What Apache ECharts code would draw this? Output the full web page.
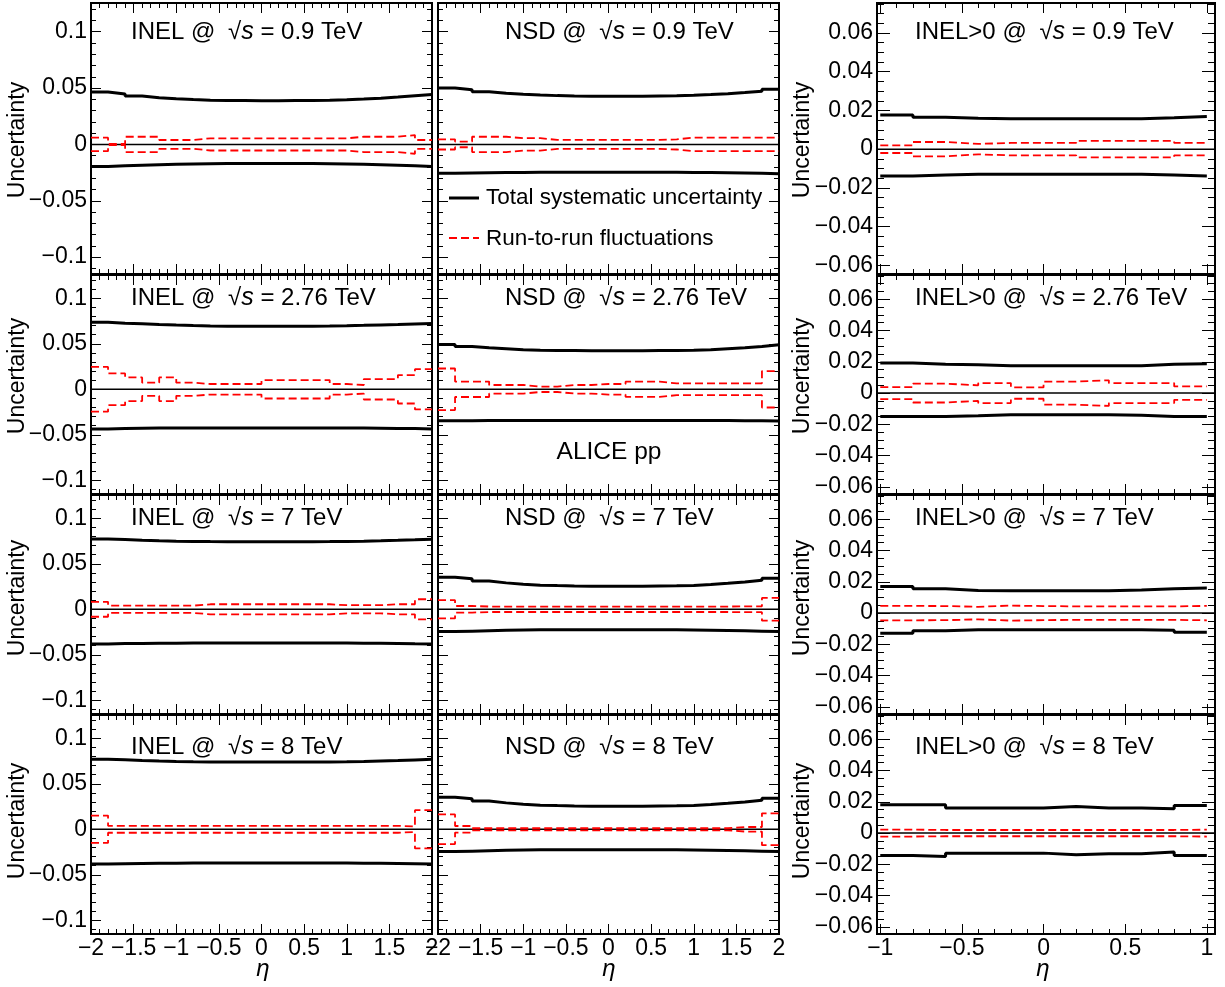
<!DOCTYPE html>
<html><head><meta charset="utf-8">
<script src="https://cdn.jsdelivr.net/npm/echarts@6/dist/echarts.min.js"></script>
<style>html,body{margin:0;padding:0;background:#fff}#c{width:1225px;height:987px}</style>
</head><body><div id="c"></div><script>
// ---------------- DATA ----------------
const etaEdges = [-2,-1.8,-1.6,-1.4,-1.2,-1,-0.8,-0.6,-0.4,-0.2,0,0.2,0.4,0.6,0.8,1,1.2,1.4,1.6,1.8,2];
const etaEdgesGt0 = [-1,-0.8,-0.6,-0.4,-0.2,0,0.2,0.4,0.6,0.8,1];
const energies = ['0.9','2.76','7','8'];
const classes = ['INEL','NSD','INEL>0'];
const xTicksWide = [-2,-1.5,-1,-0.5,0,0.5,1,1.5,2];
const xTicksNarrow = [-1,-0.5,0,0.5,1];
const yTicksWide = [-0.1,-0.05,0,0.05,0.1];
const yTicksNarrow = [-0.06,-0.04,-0.02,0,0.02,0.04,0.06];
const legendLabels = ['Total systematic uncertainty','Run-to-run fluctuations'];
const experimentLabel = 'ALICE pp';

// INEL 0.9 TeV
const inel09Up = [0.0465,0.0448,0.043,0.0415,0.0405,0.0398,0.0393,0.039,0.0389,0.0388,0.0388,0.0389,0.039,0.0392,0.0396,0.0402,0.041,0.042,0.0432,0.0442];
const inel09Lo = [-0.0195,-0.019,-0.0185,-0.018,-0.0176,-0.0173,-0.0171,-0.017,-0.0169,-0.0169,-0.0169,-0.0169,-0.017,-0.0171,-0.0173,-0.0176,-0.018,-0.0185,-0.019,-0.0196];
const inel09RR = [0.006,0.0005,0.0068,0.0068,0.0039,0.0039,0.0054,0.0054,0.0054,0.0054,0.0054,0.0054,0.0054,0.0054,0.0054,0.0068,0.0068,0.0068,0.0083,0.0039];
// NSD 0.9 TeV
const nsd09Up = [0.05,0.0486,0.0468,0.0455,0.0445,0.0438,0.0433,0.043,0.0428,0.0428,0.0428,0.0428,0.043,0.0432,0.0436,0.0442,0.045,0.046,0.0472,0.049];
const nsd09Lo = [-0.0255,-0.0253,-0.0251,-0.025,-0.0249,-0.0248,-0.0248,-0.0248,-0.0248,-0.0248,-0.0248,-0.0248,-0.0248,-0.0248,-0.0249,-0.025,-0.0251,-0.0253,-0.0256,-0.026];
const nsd09RR = [0.0045,0.0025,0.0068,0.0068,0.0055,0.0055,0.004,0.004,0.004,0.004,0.004,0.004,0.004,0.0045,0.006,0.006,0.006,0.006,0.006,0.006];
// INEL>0 0.9 TeV
const gt09Up = [0.0177,0.0165,0.016,0.0157,0.0157,0.0157,0.0157,0.0157,0.0162,0.0169];
const gt09Lo = [-0.0139,-0.0134,-0.013,-0.013,-0.013,-0.013,-0.013,-0.013,-0.0134,-0.0139];
const gt09RR = [0.002,0.0037,0.0027,0.0032,0.0032,0.0032,0.0043,0.0043,0.0043,0.0032];
// INEL 2.76 TeV
const inel276Up = [0.0735,0.0725,0.072,0.0712,0.0705,0.07,0.0696,0.0693,0.0692,0.0692,0.0692,0.0692,0.0693,0.0695,0.0698,0.0702,0.0707,0.0712,0.0718,0.0722];
const inel276Lo = [-0.0435,-0.043,-0.0428,-0.0426,-0.0425,-0.0424,-0.0424,-0.0424,-0.0424,-0.0424,-0.0424,-0.0424,-0.0424,-0.0424,-0.0425,-0.0426,-0.0428,-0.043,-0.0432,-0.0435];
const inel276RR = [0.0246,0.0174,0.013,0.0072,0.013,0.0072,0.0058,0.0058,0.0058,0.0058,0.0101,0.0101,0.0101,0.0101,0.0058,0.0047,0.0112,0.0112,0.0156,0.0221];
// NSD 2.76 TeV
const nsd276Up = [0.0493,0.0471,0.0457,0.0446,0.0435,0.0428,0.0426,0.0425,0.0424,0.0424,0.0424,0.0424,0.0425,0.0426,0.0428,0.0435,0.0446,0.0457,0.0471,0.049];
const nsd276Lo = [-0.0346,-0.0345,-0.0344,-0.0344,-0.0344,-0.0344,-0.0344,-0.0344,-0.0344,-0.0344,-0.0344,-0.0344,-0.0344,-0.0344,-0.0344,-0.0344,-0.0344,-0.0345,-0.0346,-0.0347];
const nsd276RR = [0.0228,0.0085,0.0085,0.0047,0.0047,0.003,0.003,0.0047,0.0047,0.0058,0.0058,0.0083,0.0083,0.0065,0.0065,0.0065,0.0065,0.0065,0.0065,0.02];
// INEL>0 2.76 TeV
const gt276Up = [0.0192,0.0185,0.0181,0.0175,0.0175,0.0175,0.0175,0.0175,0.0185,0.0188];
const gt276Lo = [-0.0149,-0.0149,-0.0145,-0.0138,-0.0138,-0.0138,-0.0138,-0.0142,-0.0149,-0.0149];
const gt276RR = [0.0038,0.006,0.005,0.0064,0.0036,0.0074,0.0082,0.0064,0.0064,0.0043];
// INEL 7 TeV
const inel7Up = [0.0772,0.0765,0.0758,0.0752,0.0748,0.0745,0.0743,0.0742,0.0741,0.0741,0.0741,0.0741,0.0742,0.0743,0.0745,0.0748,0.0752,0.0757,0.0763,0.077];
const inel7Lo = [-0.038,-0.0377,-0.0375,-0.0373,-0.0372,-0.0371,-0.037,-0.037,-0.037,-0.037,-0.037,-0.037,-0.037,-0.037,-0.0371,-0.0372,-0.0373,-0.0375,-0.0378,-0.038];
const inel7RR = [0.0082,0.004,0.004,0.004,0.004,0.004,0.0055,0.0055,0.0055,0.0055,0.0055,0.0055,0.0055,0.0055,0.0045,0.0045,0.0045,0.0055,0.0055,0.011];
// NSD 7 TeV
const nsd7Up = [0.0352,0.0335,0.031,0.029,0.0275,0.0265,0.026,0.0256,0.0254,0.0254,0.0254,0.0254,0.0256,0.0258,0.0262,0.0272,0.0285,0.03,0.0318,0.034];
const nsd7Lo = [-0.0245,-0.024,-0.0235,-0.023,-0.0228,-0.0226,-0.0225,-0.0225,-0.0225,-0.0225,-0.0225,-0.0225,-0.0225,-0.0226,-0.0228,-0.023,-0.0233,-0.0237,-0.0241,-0.0245];
const nsd7RR = [0.01,0.0036,0.003,0.003,0.003,0.003,0.003,0.003,0.003,0.003,0.003,0.003,0.003,0.003,0.003,0.003,0.003,0.0032,0.0032,0.0125];
// INEL>0 7 TeV
const gt7Up = [0.017,0.0155,0.0145,0.0143,0.0143,0.0143,0.0143,0.0147,0.0155,0.016];
const gt7Lo = [-0.0128,-0.0113,-0.0106,-0.0106,-0.0106,-0.0106,-0.0106,-0.0106,-0.011,-0.0123];
const gt7RR = [0.0046,0.0045,0.004,0.0048,0.0045,0.0043,0.0043,0.0043,0.0043,0.0046];
// INEL 8 TeV
const inel8Up = [0.077,0.0763,0.0756,0.075,0.0745,0.0742,0.074,0.0739,0.0738,0.0738,0.0738,0.0738,0.0739,0.074,0.0742,0.0745,0.075,0.0755,0.0762,0.0768];
const inel8Lo = [-0.038,-0.0378,-0.0376,-0.0374,-0.0372,-0.0371,-0.037,-0.037,-0.037,-0.037,-0.037,-0.037,-0.037,-0.037,-0.0371,-0.0372,-0.0374,-0.0376,-0.0378,-0.038];
const inel8RR = [0.015,0.0038,0.0038,0.0038,0.0038,0.0038,0.0038,0.0038,0.0038,0.0038,0.0038,0.0038,0.0038,0.0038,0.0038,0.0038,0.0038,0.0038,0.003,0.021];
// NSD 8 TeV
const nsd8Up = [0.0352,0.0335,0.031,0.029,0.0275,0.0265,0.026,0.0256,0.0254,0.0254,0.0254,0.0254,0.0256,0.0258,0.0262,0.0272,0.0285,0.03,0.0318,0.034];
const nsd8Lo = [-0.0245,-0.024,-0.0235,-0.023,-0.0228,-0.0226,-0.0225,-0.0225,-0.0225,-0.0225,-0.0225,-0.0225,-0.0225,-0.0226,-0.0228,-0.023,-0.0233,-0.0237,-0.0241,-0.0245];
const nsd8RR = [0.0163,0.0036,0.0012,0.0012,0.0012,0.0012,0.0012,0.0012,0.0012,0.0012,0.0012,0.0012,0.0012,0.0012,0.0012,0.0012,0.0012,0.0025,0.0025,0.0175];
// INEL>0 8 TeV
const gt8Up = [0.0181,0.0181,0.016,0.016,0.016,0.017,0.016,0.016,0.0155,0.0177];
const gt8Lo = [-0.0143,-0.0149,-0.0128,-0.0128,-0.0128,-0.0138,-0.0132,-0.0132,-0.0121,-0.0143];
const gt8RR = [0.0022,0.002,0.002,0.002,0.002,0.002,0.002,0.002,0.002,0.0022];

const panelSeries = [
  [[inel09Up,inel09Lo,inel09RR],[nsd09Up,nsd09Lo,nsd09RR],[gt09Up,gt09Lo,gt09RR]],
  [[inel276Up,inel276Lo,inel276RR],[nsd276Up,nsd276Lo,nsd276RR],[gt276Up,gt276Lo,gt276RR]],
  [[inel7Up,inel7Lo,inel7RR],[nsd7Up,nsd7Lo,nsd7RR],[gt7Up,gt7Lo,gt7RR]],
  [[inel8Up,inel8Lo,inel8RR],[nsd8Up,nsd8Lo,nsd8RR],[gt8Up,gt8Lo,gt8RR]]
];

// ---------------- LAYOUT / STYLE ----------------
const FONT = '"Liberation Sans", Arial, Helvetica, sans-serif';
const colLeft = [91, 438, 877];
const colWidth = [341, 341, 338];
const rowTop = [3, 275, 495, 715];
const rowH = [271, 219, 219, 219];
const xRange = [[-2.0,2.0],[-2.0,2.0],[-1.02,1.05]];
const yRange = [[-0.115,0.1255],[-0.115,0.1255],[-0.0645,0.0755]];
const titleX = [131, 505, 915];
const titleY = [32, 298, 518, 747];
const axisNameY = [140, 376, 598, 821];
const RED_DASH = [8,4];

function fmt(v){ const r = Math.round(v*1000)/1000; return (r<0?'\u2212':'') + Math.abs(r); }
function range(a,b,step){ const out=[]; const n=Math.round((b-a)/step); for(let i=0;i<=n;i++) out.push(+(a+i*step).toFixed(4)); return out; }
function stepData(edges, vals){ const d = vals.map((v,i)=>[edges[i], v]); d.push([edges[edges.length-1], vals[vals.length-1]]); return d; }
function negate(a){ return a.map(v=>-v); }

const grids=[], xAxes=[], yAxes=[], series=[], titles=[], graphics=[];
let g=0;
for(let r=0;r<4;r++){
  for(let c=0;c<3;c++){
    grids.push({left:colLeft[c], top:rowTop[r], width:colWidth[c], height:rowH[r], show:true, borderColor:'#000', borderWidth:2, backgroundColor:'transparent', containLabel:false});
    const xr=xRange[c], yr=yRange[c];
    const xMaj = c<2 ? xTicksWide : xTicksNarrow;
    const xMin = c<2 ? range(-2,2,0.1) : range(-1,1,0.1);
    const yMaj = c<2 ? yTicksWide : yTicksNarrow;
    const yMin = c<2 ? range(-0.11,0.12,0.01) : range(-0.06,0.075,0.005);
    const yMajLen = c<2 ? 10 : 13, yMinLen = c<2 ? 5 : 7;
    const mkX=(pos,ticks,len,lab)=>({type:'value',gridIndex:g,position:pos,min:xr[0],max:xr[1],
      axisLine:{show:false,onZero:false},splitLine:{show:false},
      axisTick:{show:true,inside:true,length:len,customValues:ticks,lineStyle:{color:'#000',width:1}},
      axisLabel:{show:lab,customValues:ticks,formatter:fmt,color:'#000',fontSize:23,fontFamily:FONT,margin:3}});
    const mkY=(pos,ticks,len,lab)=>({type:'value',gridIndex:g,position:pos,min:yr[0],max:yr[1],
      axisLine:{show:false,onZero:false},splitLine:{show:false},
      axisTick:{show:true,inside:true,length:len,customValues:ticks,lineStyle:{color:'#000',width:1}},
      axisLabel:{show:lab,customValues:ticks,formatter:fmt,color:'#000',fontSize:23,fontFamily:FONT,margin:4}});
    xAxes.push(mkX('bottom',xMaj,10,r===3), mkX('bottom',xMin,5,false), mkX('top',xMaj,10,false), mkX('top',xMin,5,false));
    yAxes.push(mkY('left',yMaj,yMajLen,c!==1), mkY('left',yMin,yMinLen,false), mkY('right',yMaj,yMajLen,false), mkY('right',yMin,yMinLen,false));
    const edges = c<2 ? etaEdges : etaEdgesGt0;
    const [up,lo,rr] = panelSeries[r][c];
    const base={type:'line',xAxisIndex:g*4,yAxisIndex:g*4,symbol:'none',silent:true,animation:false};
    series.push(Object.assign({},base,{data:[[xr[0],0],[xr[1],0]],lineStyle:{color:'#000',width:1.5},z:2}));
    series.push(Object.assign({},base,{step:'end',data:stepData(edges,rr),lineStyle:{color:'#ff0000',width:1.8,type:RED_DASH},z:3}));
    series.push(Object.assign({},base,{step:'end',data:stepData(edges,negate(rr)),lineStyle:{color:'#ff0000',width:1.8,type:RED_DASH},z:3}));
    series.push(Object.assign({},base,{step:'end',data:stepData(edges,up),lineStyle:{color:'#000',width:3},z:4}));
    series.push(Object.assign({},base,{step:'end',data:stepData(edges,lo),lineStyle:{color:'#000',width:3},z:4}));
    titles.push({text:classes[c]+' @ {r|\u221A}{s|s} = '+energies[r]+' TeV', left:titleX[c], top:titleY[r]-14, padding:0,
      textStyle:{fontSize:24,fontFamily:FONT,fontWeight:'normal',color:'#000',lineHeight:28,
        rich:{r:{fontSize:24,fontFamily:FONT,color:'#000',lineHeight:28,padding:[0,0,0,6]},s:{fontSize:25,fontFamily:FONT,fontStyle:'italic',color:'#000',lineHeight:28}}}});
    g++;
  }
}
// axis names
for(let r=0;r<4;r++){
  for(const cx of [18, 803]){
    graphics.push({type:'text', x:cx, y:axisNameY[r], rotation:Math.PI/2,
      style:{text:'Uncertainty', fontSize:23, fontFamily:FONT, fill:'#000', textAlign:'center', textVerticalAlign:'middle', align:'center', verticalAlign:'middle'}});
  }
}
for(const cx of [263, 609, 1043]){
  graphics.push({type:'text', x:cx, y:969, style:{text:'\u03B7', fontSize:24, fontStyle:'italic', fontFamily:FONT, fill:'#000', textAlign:'center', textVerticalAlign:'middle', align:'center', verticalAlign:'middle'}});
}
// legend
graphics.push({type:'line', shape:{x1:449,y1:198,x2:479,y2:198}, style:{stroke:'#000', lineWidth:3}});
graphics.push({type:'line', shape:{x1:449,y1:238,x2:479,y2:238}, style:{stroke:'#ff0000', lineWidth:1.8, lineDash:RED_DASH}});
graphics.push({type:'text', x:486, y:198, style:{text:legendLabels[0], fontSize:22.5, fontFamily:FONT, fill:'#000', textVerticalAlign:'middle', verticalAlign:'middle'}});
graphics.push({type:'text', x:486, y:239, style:{text:legendLabels[1], fontSize:22.5, fontFamily:FONT, fill:'#000', textVerticalAlign:'middle', verticalAlign:'middle'}});
graphics.push({type:'text', x:609, y:452, style:{text:experimentLabel, fontSize:24.5, fontFamily:FONT, fill:'#000', textAlign:'center', textVerticalAlign:'middle', align:'center', verticalAlign:'middle'}});

const option = {animation:false, backgroundColor:'#fff', grid:grids, xAxis:xAxes, yAxis:yAxes, series:series, title:titles, graphic:graphics};
const chart = echarts.init(document.getElementById('c'), null, {renderer:'canvas'});
chart.setOption(option);
</script></body></html>
